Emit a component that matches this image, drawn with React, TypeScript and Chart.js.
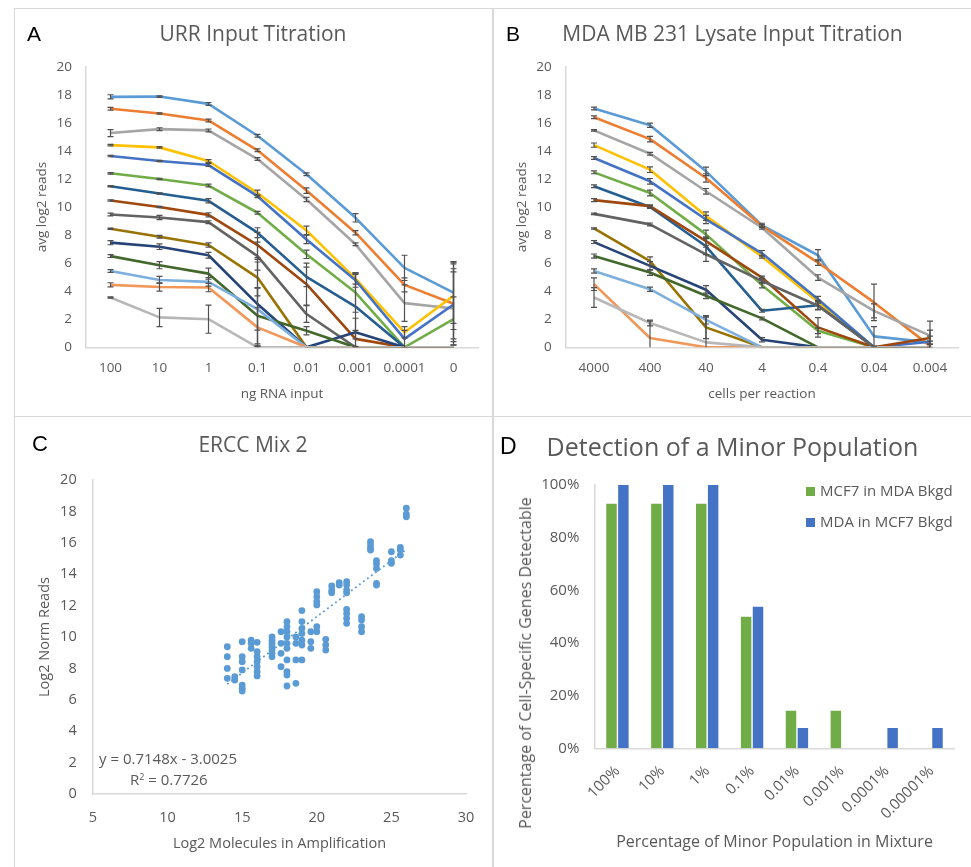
import React, { useEffect, useRef } from 'react';
import { Chart, registerables } from 'chart.js';

Chart.register(...registerables);

const FONT = '"Open Sans", "Noto Sans", "DejaVu Sans", sans-serif';
const TXT = '#595959';
const AXIS = '#D9D9D9';
const NOGRID = { display: false, drawTicks: false, tickLength: 0 };

// ---------------- Panel A: URR Input Titration ----------------
const urrLabels = ['100', '10', '1', '0.1', '0.01', '0.001', '0.0001', '0'];
const urrValues: number[][] = [
  [17.85, 17.87, 17.35, 15.08, 12.33, 9.23, 5.66, 3.9],
  [17.0, 16.66, 16.17, 14.04, 11.17, 8.17, 4.45, 3.1],
  [15.27, 15.55, 15.46, 13.42, 10.53, 7.34, 3.15, 2.77],
  [14.41, 14.25, 13.28, 11.0, 8.33, 4.9, 1.07, 3.67],
  [13.63, 13.28, 12.99, 10.77, 7.69, 4.78, 0.6, 3.05],
  [12.4, 12.0, 11.53, 9.59, 6.63, 3.9, 0, 2.0],
  [11.48, 10.96, 10.44, 8.17, 5.02, 2.9, 0, 0],
  [10.46, 10.0, 9.44, 7.29, 4.5, 0.6, 0, 0],
  [9.47, 9.25, 8.92, 6.5, 2.37, 0, 0, 0],
  [8.45, 7.88, 7.29, 4.97, 0, 0, 0, 0],
  [7.46, 7.17, 6.56, 3.08, 0, 1.07, 0, 0],
  [6.5, 5.85, 5.25, 2.25, 1.18, 0, 0, 0],
  [5.44, 4.8, 4.66, 2.72, 0, 0, 0, 0],
  [4.45, 4.3, 4.26, 1.42, 0, 0, 0, 0],
  [3.55, 2.13, 2.0, 0, 0, 0, 0, 0],
];
const urrErrors: number[][] = [
  [0.15, 0.05, 0.1, 0.1, 0.1, 0.3, 0.9, 2.2],
  [0.1, 0.05, 0.1, 0.1, 0.2, 0.15, 0.5, 2.5],
  [0.25, 0.1, 0.1, 0.1, 0.15, 0.1, 1.3, 2.6],
  [0.05, 0.05, 0.1, 0.2, 0.3, 0.4, 0.4, 2.4],
  [0.05, 0.05, 0.1, 0.1, 0.3, 0.5, 0.6, 2.9],
  [0.05, 0.05, 0.1, 0.1, 0.3, 1.4, 0, 1.6],
  [0.05, 0.05, 0.15, 0.35, 0.7, 2.3, 0, 0],
  [0.05, 0.05, 0.15, 0.9, 1.5, 0.6, 0, 0],
  [0.1, 0.15, 0.1, 1.0, 0.6, 0, 0, 0],
  [0.05, 0.1, 0.15, 1.3, 0, 0, 0, 0],
  [0.15, 0.2, 0.2, 3.0, 0, 1.0, 0, 0],
  [0.1, 0.25, 0.4, 2.0, 0.3, 0, 0, 0],
  [0.1, 0.25, 0.3, 1.5, 0, 0, 0, 0],
  [0.15, 0.3, 0.3, 1.4, 0, 0, 0, 0],
  [0.05, 0.65, 1.0, 0.1, 0, 0, 0, 0],
];

// ---------------- Panel B: MDA MB 231 Lysate Input Titration ----------------
const mdaLabels = ['4000', '400', '40', '4', '0.4', '0.04', '0.004'];
const mdaValues: number[][] = [
  [17.02, 15.83, 12.54, 8.69, 6.56, 0.78, 0.35],
  [16.4, 14.84, 12.07, 8.64, 6.04, 3.2, 0.1],
  [15.46, 13.8, 11.12, 8.52, 4.97, 2.6, 0.83],
  [14.41, 12.66, 9.35, 6.46, 3.24, 0, 0],
  [13.49, 11.83, 9.11, 6.7, 3.43, 0, 0.4],
  [12.47, 11.0, 8.05, 4.43, 1.18, 0, 0],
  [11.48, 10.0, 7.2, 2.6, 3.0, 0, 0],
  [10.49, 10.06, 7.57, 4.97, 1.42, 0, 0.66],
  [9.51, 8.76, 6.63, 4.73, 2.96, 0, 0],
  [8.47, 6.15, 1.42, 0, 0, 0, 0],
  [7.5, 5.8, 4.1, 0.54, 0, 0, 0],
  [6.5, 5.33, 3.67, 2.06, 0, 0, 0],
  [5.44, 4.14, 1.96, 0, 0, 0, 0],
  [4.5, 0.66, 0, 0, 0, 0, 0],
  [3.55, 1.73, 0.35, 0, 0, 0, 0],
];
const mdaErrors: number[][] = [
  [0.1, 0.15, 0.3, 0.15, 0.4, 0.7, 0.1],
  [0.1, 0.2, 0.3, 0.1, 0.2, 1.3, 0.1],
  [0.05, 0.1, 0.2, 0.1, 0.2, 0.5, 0.4],
  [0.15, 0.2, 0.3, 0.1, 0.1, 0, 0],
  [0.1, 0.2, 0.3, 0.2, 0.2, 0, 0],
  [0.1, 0.2, 0.3, 0.2, 0.2, 0, 0],
  [0.1, 0.1, 0.6, 0.1, 0.3, 0, 0],
  [0.1, 0.1, 0.3, 0.1, 0.7, 0, 1.2],
  [0.05, 0.1, 0.5, 0.2, 0.3, 0, 0.8],
  [0.05, 0.3, 0.8, 0, 0, 0, 0],
  [0.1, 0.3, 0.3, 0.15, 0, 0, 0],
  [0.15, 0.2, 0.2, 0.1, 0, 0, 0],
  [0.15, 0.15, 0.3, 0, 0, 0, 0],
  [0.45, 1.2, 0, 0, 0, 0, 0],
  [0.7, 0.2, 1.8, 0, 0, 0, 0],
];

const seriesColors = [
  '#5B9BD5', '#ED7D31', '#A5A5A5', '#FFC000', '#4472C4', '#70AD47', '#255E91', '#9E480E',
  '#636363', '#997300', '#264478', '#43682B', '#7CAFDD', '#F1975A', '#B7B7B7',
];

// ---------------- Panel C: ERCC Mix 2 ----------------
const ercLog2Molecules = [
  14, 14, 14, 14,
  14.5, 14.5,
  15, 15, 15, 15, 15, 15, 15,
  15.6, 15.6, 15.6,
  16, 16, 16, 16, 16, 16, 16,
  17, 17, 17, 17, 17, 17, 17,
  17.6, 17.6, 17.6, 17.6,
  18, 18, 18, 18, 18, 18, 18, 18, 18, 18,
  18.6, 18.6, 18.6, 18.6,
  19, 19, 19, 19, 19, 19, 19,
  19.6, 19.6, 19.6,
  20, 20, 20, 20, 20, 20,
  20.6, 20.6, 20.6,
  21, 21, 21,
  21.5, 21.5,
  22, 22, 22, 22, 22, 22, 22, 22,
  23, 23, 23, 23,
  23.6, 23.6, 23.6, 23.6,
  24, 24, 24, 24, 24,
  25, 25, 25,
  25.6, 25.6, 25.6,
  26, 26, 26,
];
const ercLog2Reads = [
  9.38, 8.75, 8.0, 7.37,
  7.47, 7.26,
  9.7, 8.75, 8.43, 7.9, 6.94, 6.73, 6.56,
  9.8, 9.6, 9.28,
  9.66, 9.07, 8.75, 8.43, 8.11, 7.79, 7.52,
  10.0, 9.8, 9.6, 9.38, 9.17, 8.96, 8.75,
  10.34, 9.6, 8.96, 8.11,
  10.98, 10.66, 10.34, 10.0, 9.6, 9.28, 8.54, 7.79, 7.58, 6.88,
  10.0, 9.6, 8.54, 7.05,
  11.68, 10.98, 10.55, 10.23, 9.8, 9.49, 8.54,
  10.34, 9.7, 9.28,
  12.89, 12.57, 12.25, 12.04, 10.66, 10.34,
  9.85, 9.49, 9.17,
  13.25, 12.99, 12.82,
  13.46, 13.31,
  13.52, 13.31, 12.99, 12.82, 11.76, 11.5, 11.19, 10.87,
  11.3, 11.08, 10.66, 10.34,
  16.07, 15.86, 15.65, 15.54,
  14.86, 14.65, 14.37, 13.42, 13.31,
  15.43, 14.86, 14.69,
  15.71, 15.54, 15.22,
  18.2, 17.83, 17.66,
];
const trendSlope = 0.7148;
const trendIntercept = -3.0025;
const trendR2 = 0.7726;

// ---------------- Panel D: Detection of a Minor Population ----------------
const minorLabels = ['100%', '10%', '1%', '0.1%', '0.01%', '0.001%', '0.0001%', '0.00001%'];
const mcf7InMda = [0.929, 0.929, 0.929, 0.5, 0.143, 0.143, 0, 0];
const mdaInMcf7 = [1.0, 1.0, 1.0, 0.538, 0.077, 0, 0.077, 0.077];

// ---------------- plugins ----------------
const errorBarPlugin = {
  id: 'errorBars',
  afterDatasetsDraw(chart: any) {
    const { ctx, chartArea } = chart;
    const y = chart.scales.y;
    ctx.save();
    ctx.beginPath();
    ctx.rect(chartArea.left, chartArea.top - 4, chartArea.right - chartArea.left, chartArea.bottom - chartArea.top + 4);
    ctx.clip();
    ctx.strokeStyle = '#505050';
    ctx.lineWidth = 1.2;
    chart.data.datasets.forEach((ds: any, i: number) => {
      const errs: number[] | undefined = ds.errors;
      if (!errs) return;
      const meta = chart.getDatasetMeta(i);
      errs.forEach((e, j) => {
        if (!e) return;
        const v = ds.data[j];
        const px = meta.data[j].x;
        const top = y.getPixelForValue(v + e);
        const bot = y.getPixelForValue(v - e);
        ctx.beginPath();
        ctx.moveTo(px, top);
        ctx.lineTo(px, bot);
        ctx.moveTo(px - 3, top);
        ctx.lineTo(px + 3, top);
        ctx.moveTo(px - 3, bot);
        ctx.lineTo(px + 3, bot);
        ctx.stroke();
      });
    });
    ctx.restore();
  },
};

const boxLegendPlugin = {
  id: 'boxLegend',
  afterDraw(chart: any) {
    const { ctx, chartArea } = chart;
    const x0 = chartArea.right - 148;
    const y0 = chartArea.top + 6.5;
    ctx.save();
    chart.data.datasets.forEach((ds: any, i: number) => {
      const cy = y0 + i * 31;
      ctx.fillStyle = ds.backgroundColor;
      ctx.fillRect(x0, cy - 4.5, 9, 9);
      ctx.fillStyle = TXT;
      ctx.font = `15px ${FONT}`;
      ctx.textBaseline = 'middle';
      ctx.textAlign = 'left';
      ctx.fillText(ds.label, x0 + 14, cy);
    });
    ctx.restore();
  },
};

// ---------------- configs ----------------
function titrationConfig(labels: string[], values: number[][], errors: number[][], xTitle: string, yWidth: number, rightPad: number, yTickPad: number, yTitlePad: number) {
  return {
    type: 'line',
    data: {
      labels,
      datasets: values.map((vals, i) => ({
        label: `Series ${i + 1}`,
        data: vals,
        errors: errors[i],
        borderColor: seriesColors[i],
        backgroundColor: seriesColors[i],
        borderWidth: 2.6,
        pointRadius: 0,
        tension: 0,
        borderJoinStyle: 'round',
        order: -i,
      })),
    },
    options: {
      responsive: false,
      animation: false,
      layout: { padding: { left: 0, right: rightPad, top: 57.7, bottom: 0 } },
      plugins: { legend: { display: false }, tooltip: { enabled: false } },
      scales: {
        x: {
          offset: true,
          grid: NOGRID,
          border: { display: true, color: AXIS, width: 1.5 },
          ticks: { color: TXT, font: { family: FONT, size: 13.5 }, padding: 12.6, maxRotation: 0, minRotation: 0, autoSkip: false },
          title: { display: true, text: xTitle, color: TXT, font: { family: FONT, size: 13.5 }, padding: { top: 0, bottom: 13 } },
          afterFit: (s: any) => { s.height = 67.7; },
        },
        y: {
          min: 0,
          max: 20,
          grid: NOGRID,
          border: { display: true, color: AXIS, width: 1.5 },
          ticks: { stepSize: 2, color: TXT, font: { family: FONT, size: 13.5 }, padding: yTickPad },
          title: { display: true, text: 'avg log2 reads', color: TXT, font: { family: FONT, size: 13.5 }, padding: { top: yTitlePad, bottom: 0 } },
          afterFit: (s: any) => { s.width = yWidth; },
        },
      },
    },
    plugins: [errorBarPlugin],
  };
}

function erccConfig() {
  const points = ercLog2Molecules.map((x, i) => ({ x, y: ercLog2Reads[i] }));
  const xMin = Math.min(...ercLog2Molecules);
  const xMax = Math.max(...ercLog2Molecules);
  const trend = [xMin, xMax].map((x) => ({ x, y: trendSlope * x + trendIntercept }));
  return {
    type: 'scatter',
    data: {
      datasets: [
        {
          label: 'ERCC',
          data: points,
          backgroundColor: '#5B9BD5',
          borderColor: '#5B9BD5',
          pointRadius: 3.4,
          borderWidth: 0,
        },
        {
          type: 'line',
          label: 'Linear',
          data: trend,
          borderColor: '#5B9BD5',
          borderWidth: 1.8,
          borderDash: [1.8, 3.2],
          pointRadius: 0,
          showLine: true,
          fill: false,
        },
      ],
    },
    options: {
      responsive: false,
      animation: false,
      layout: { padding: { left: 0, right: 26, top: 63, bottom: 0 } },
      plugins: { legend: { display: false }, tooltip: { enabled: false } },
      scales: {
        x: {
          type: 'linear',
          min: 5,
          max: 30,
          grid: NOGRID,
          border: { display: true, color: AXIS, width: 1.5 },
          ticks: { stepSize: 5, color: TXT, font: { family: FONT, size: 14.5 }, padding: 14.8, maxRotation: 0 },
          title: { display: true, text: 'Log2 Molecules in Amplification', color: TXT, font: { family: FONT, size: 14.5 }, padding: { top: 0, bottom: 14.5 } },
          afterFit: (s: any) => { s.height = 73; },
        },
        y: {
          min: 0,
          max: 20,
          grid: NOGRID,
          border: { display: true, color: AXIS, width: 1.5 },
          ticks: { stepSize: 2, color: TXT, font: { family: FONT, size: 14.5 }, padding: 16.3 },
          title: { display: true, text: 'Log2 Norm Reads', color: TXT, font: { family: FONT, size: 14.5 }, padding: { top: 21.3, bottom: 0 } },
          afterFit: (s: any) => { s.width = 78; },
        },
      },
    },
  };
}

function minorConfig() {
  return {
    type: 'bar',
    data: {
      labels: minorLabels,
      datasets: [
        { label: 'MCF7 in MDA Bkgd', data: mcf7InMda, backgroundColor: '#70AD47', categoryPercentage: 0.53, barPercentage: 0.88 },
        { label: 'MDA in MCF7 Bkgd', data: mdaInMcf7, backgroundColor: '#4472C4', categoryPercentage: 0.53, barPercentage: 0.88 },
      ],
    },
    options: {
      responsive: false,
      animation: false,
      layout: { padding: { left: 0, right: 17, top: 68, bottom: 0 } },
      plugins: { legend: { display: false }, tooltip: { enabled: false } },
      scales: {
        x: {
          grid: NOGRID,
          border: { display: true, color: AXIS, width: 1.5 },
          ticks: { color: TXT, font: { family: FONT, size: 15 }, padding: 14, minRotation: 45, maxRotation: 45, autoSkip: false },
          title: { display: true, text: 'Percentage of Minor Population in Mixture', color: TXT, font: { family: FONT, size: 16 }, padding: { top: 0, bottom: 14.5 } },
          afterFit: (s: any) => { s.height = 118.7; },
        },
        y: {
          min: 0,
          max: 1,
          grid: NOGRID,
          border: { display: true, color: AXIS, width: 1.5 },
          ticks: {
            stepSize: 0.2,
            color: TXT,
            font: { family: FONT, size: 15 },
            padding: 15.7,
            callback: (v: any) => `${Math.round(Number(v) * 100)}%`,
          },
          afterFit: (s: any) => { s.width = 102; },
        },
      },
    },
    plugins: [boxLegendPlugin],
  };
}

// ---------------- components ----------------
function ChartBox(props: { left: number; top: number; width: number; height: number; make: () => any }) {
  const ref = useRef<HTMLCanvasElement | null>(null);
  useEffect(() => {
    if (!ref.current) return;
    const chart = new Chart(ref.current, props.make());
    let alive = true;
    if ((document as any).fonts && (document as any).fonts.load) {
      (document as any).fonts.load(`15px "Open Sans"`).then(() => { if (alive) chart.update(); }).catch(() => {});
    }
    return () => { alive = false; chart.destroy(); };
  }, []);
  return (
    <canvas
      ref={ref}
      width={props.width}
      height={props.height}
      style={{ position: 'absolute', left: props.left, top: props.top, width: props.width, height: props.height }}
    />
  );
}

function Label(props: { text: React.ReactNode; x: number; y: number; size: number; color?: string; center?: boolean; family?: string }) {
  return (
    <div
      style={{
        position: 'absolute',
        left: props.x,
        top: props.y - 0.53 * props.size,
        fontSize: props.size,
        lineHeight: `${props.size}px`,
        color: props.color || TXT,
        fontFamily: props.family || FONT,
        whiteSpace: 'nowrap',
        transform: props.center ? 'translateX(-50%)' : undefined,
      }}
    >
      {props.text}
    </div>
  );
}

function Line(props: { left: number; top: number; width: number; height: number }) {
  return <div style={{ position: 'absolute', left: props.left, top: props.top, width: props.width, height: props.height, background: AXIS }} />;
}

export default function App() {
  const LETTER = '"Liberation Sans", Arial, sans-serif';
  return (
    <div style={{ position: 'absolute', left: 0, top: 0, width: 971, height: 867, background: '#fff', overflow: 'hidden' }}>
      <Line left={14} top={7.5} width={957} height={1.5} />
      <Line left={13.5} top={8} width={1.5} height={859} />
      <Line left={492} top={8} width={1.5} height={859} />
      <Line left={14} top={415.5} width={957} height={1.5} />

      <ChartBox left={15} top={9} width={477} height={406} make={() => titrationConfig(urrLabels, urrValues, urrErrors, 'ng RNA input', 71, 14, 14, 19)} />
      <ChartBox left={493} top={9} width={478} height={406} make={() => titrationConfig(mdaLabels, mdaValues, mdaErrors, 'cells per reaction', 73, 13, 14.3, 20.6)} />
      <ChartBox left={15} top={417} width={477} height={450} make={erccConfig} />
      <ChartBox left={493} top={417} width={478} height={450} make={minorConfig} />

      <Label text="A" x={27} y={34} size={21} color="#000" family={LETTER} />
      <Label text="URR Input Titration" x={253} y={34} size={21} center />
      <Label text="B" x={506} y={34} size={21} color="#000" family={LETTER} />
      <Label text="MDA MB 231 Lysate Input Titration" x={732.5} y={34} size={21} center />
      <Label text="C" x={32} y={445} size={22} color="#000" family={LETTER} />
      <Label text="ERCC Mix 2" x={253} y={445} size={21} center />
      <Label text="D" x={500} y={447} size={23} color="#000" family={LETTER} />
      <Label text="Detection of a Minor Population" x={732.5} y={447} size={25} center />

      <Label text={`y = ${trendSlope}x - ${Math.abs(trendIntercept).toFixed(4)}`} x={99} y={759} size={15} />
      <Label text={<span>R<sup style={{ fontSize: 9, verticalAlign: 'top', lineHeight: '10px' }}>2</sup> = {trendR2}</span>} x={130} y={780} size={15} />

      <div
        style={{
          position: 'absolute',
          left: 525,
          top: 663,
          fontSize: 16,
          lineHeight: '16px',
          color: TXT,
          fontFamily: FONT,
          whiteSpace: 'nowrap',
          transform: 'translate(-50%, -50%) rotate(-90deg)',
        }}
      >
        Percentage of Cell-Specific Genes Detectable
      </div>
    </div>
  );
}
